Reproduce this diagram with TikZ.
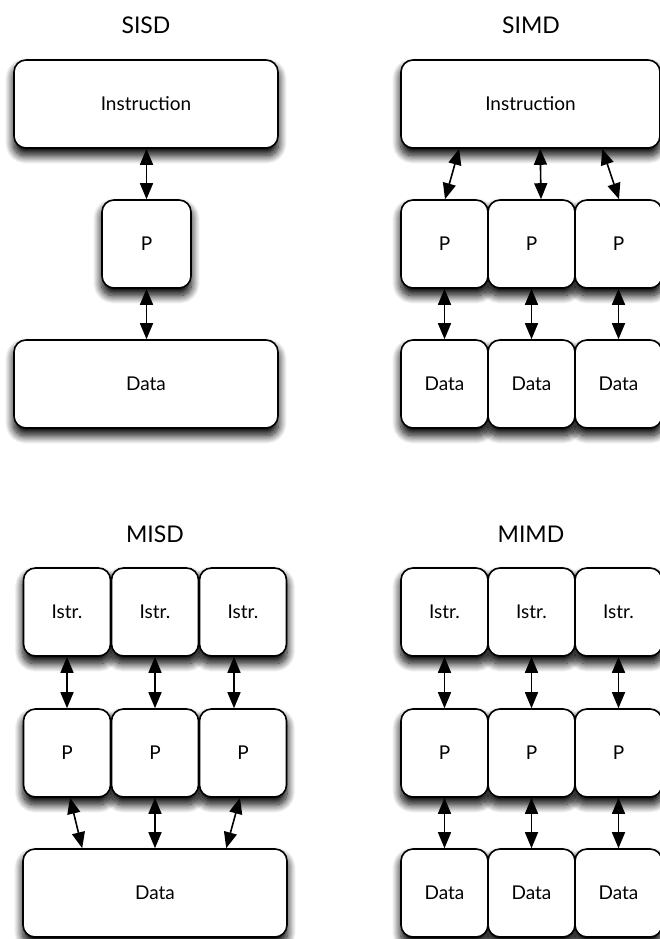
\documentclass[tikz,border=0pt]{standalone}
\usepackage{fontspec}
\setmainfont{Lato}
\usetikzlibrary{arrows.meta,calc,shadows.blur,backgrounds}

\tikzset{
  unit/.style={draw=black, line width=1.6pt, fill=white, rounded corners=12pt,
    inner sep=0pt, minimum height=88pt, font=\fontsize{19}{22}\selectfont},
  small/.style={unit, minimum width=87pt},
  wide/.style={unit, minimum width=264pt},
  title/.style={anchor=base, font=\fontsize{23}{26}\selectfont},
  link/.style={line width=1.6pt, {Triangle[length=16pt,width=13pt]}-{Triangle[length=16pt,width=13pt]}},
  softshadow/.style={rounded corners=12pt,
    blur shadow={shadow xshift=0pt, shadow yshift=-7pt, shadow blur radius=8pt,
      shadow blur steps=16, shadow opacity=100}}
}

\begin{document}
\begin{tikzpicture}[x=1pt, y=-1pt]
\useasboundingbox (0,0) rectangle (659,939);

% ---------- SISD ----------
\node[title] (t1) at (146,34) {SISD};
\node[wide] (si) at (146,104) {Instruction};
\node[unit, minimum width=89pt] (sp) at (146.5,244) {P};
\node[wide] (sd) at (146,384) {Data};
\draw[link] (si.south -| sp.north) -- (sp.north);
\draw[link] (sp.south) -- (sd.north -| sp.south);

% ---------- SIMD ----------
\node[title] (t2) at (531,34) {SIMD};
\node[unit, minimum width=259pt] (mi) at (530.5,104) {Instruction};
\foreach \i/\x in {1/444.5, 2/531.5, 3/618.5}{
  \node[small] (mp\i) at (\x,244) {P};
  \node[small] (md\i) at (\x,384) {Data};
  \draw[link] (mp\i.south) -- (md\i.north);
}
\draw[link] ($(mi.south west)+(59,0)$) -- ($(mp1.north)+(0.5,0)$);
\draw[link] ($(mi.south west)+(140,0)$) -- ($(mp2.north)+(9.5,0)$);
\draw[link] ($(mi.south west)+(202,0)$) -- ($(mp3.north)+(0.5,0)$);

% ---------- MISD ----------
\node[title] (t3) at (155,542) {MISD};
\foreach \i/\x in {1/67, 2/155, 3/243}{
  \node[small] (ni\i) at (\x,612) {Istr.};
  \node[small] (np\i) at (\x,753) {P};
}
\node[wide] (nd) at (155,893) {Data};
\draw[link] (ni1.south) -- (np1.north);
\draw[link] (ni2.south) -- (np2.north);
\draw[link] ($(ni3.south)+(-9,0)$) -- ($(np3.north)+(-9,0)$);
\draw[link] ($(np1.south)+(3,0)$) -- ($(nd.north west)+(60,0)$);
\draw[link] (np2.south) -- (nd.north);
\draw[link] ($(np3.south)+(-3,0)$) -- ($(nd.north west)+(204,0)$);

% ---------- MIMD ----------
\node[title] (t4) at (531,542) {MIMD};
\foreach \i/\x in {1/444.5, 2/531.5, 3/618.5}{
  \node[small] (ki\i) at (\x,612) {Istr.};
  \node[small] (kp\i) at (\x,753) {P};
  \node[small] (kd\i) at (\x,893) {Data};
  \draw[link] (ki\i.south) -- (kp\i.north);
  \draw[link] (kp\i.south) -- (kd\i.north);
}

% soft drop shadows behind every box
\begin{pgfonlayer}{background}
\foreach \n in {si,sp,sd,mi,mp1,mp2,mp3,md1,md2,md3,
                ni1,ni2,ni3,np1,np2,np3,nd,
                ki1,ki2,ki3,kp1,kp2,kp3,kd1,kd2,kd3}{
  \path[softshadow] (\n.south west) rectangle (\n.north east);
}
\end{pgfonlayer}
\end{tikzpicture}
\end{document}
